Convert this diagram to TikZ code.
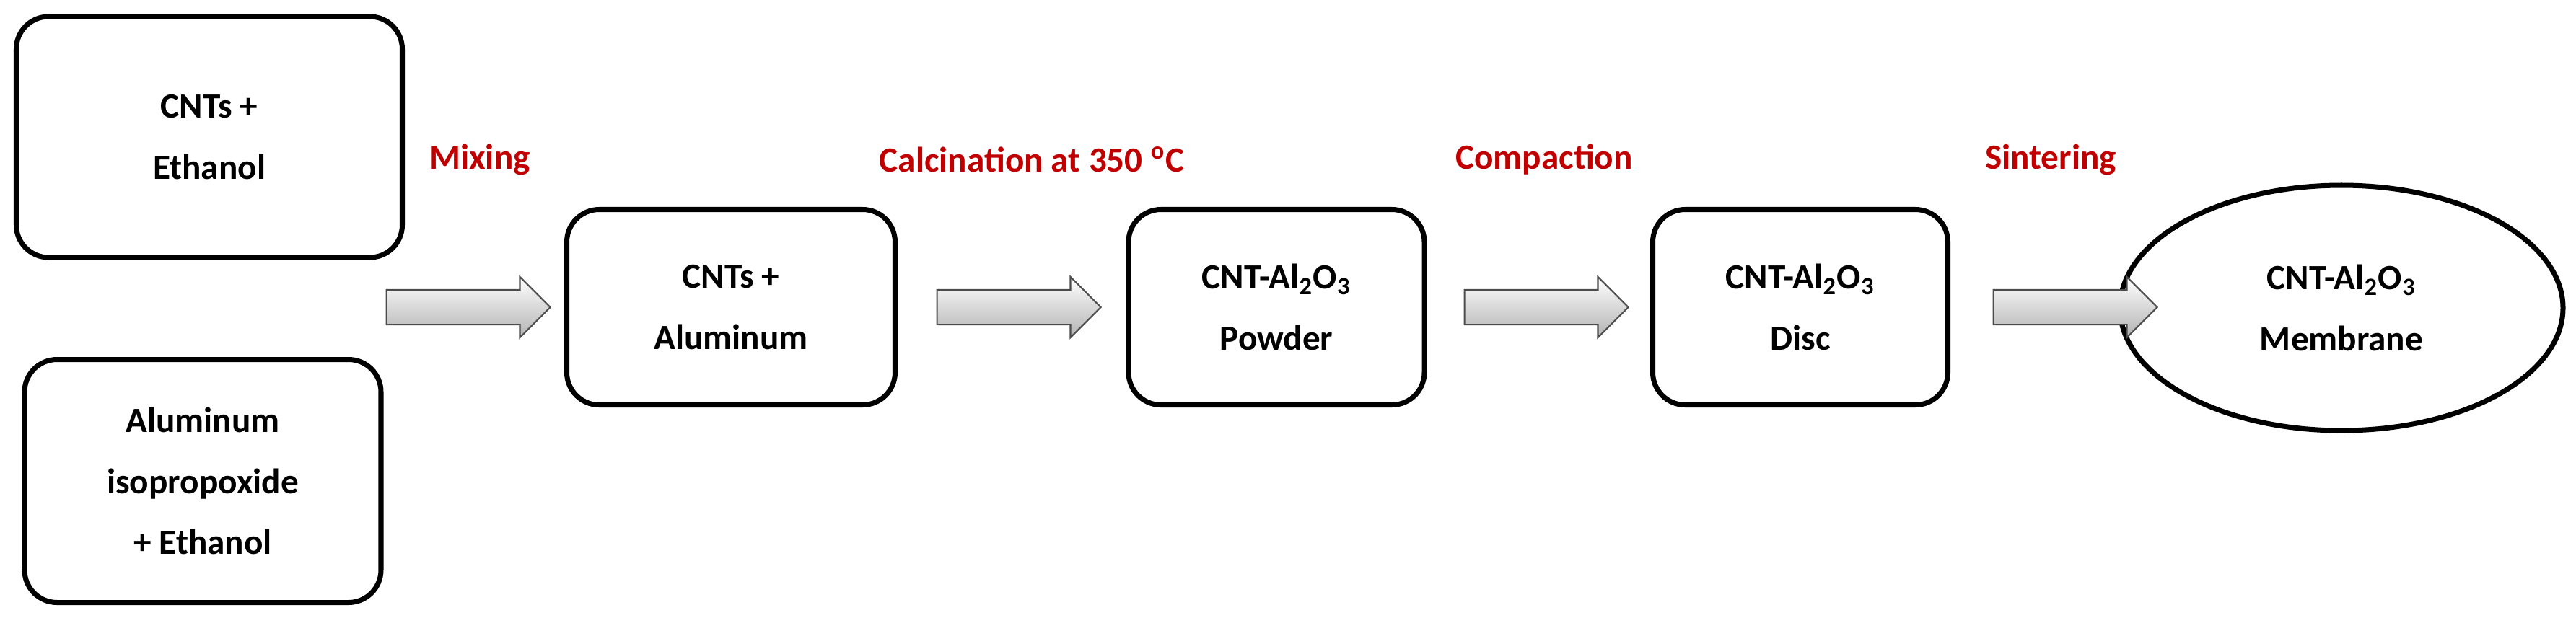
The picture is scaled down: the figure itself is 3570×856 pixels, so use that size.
\documentclass[tikz,border=0pt]{standalone}
\usepackage{fontspec}
\setmainfont{Carlito}
\usetikzlibrary{shapes.arrows,shapes.geometric}
\definecolor{lab}{RGB}{192,0,0}
\tikzset{
  box/.style={draw,line width=2pt,rounded corners=4.5mm,align=center,font=\fontsize{14}{24}\selectfont\bfseries,inner sep=0pt},
  lbl/.style={text=lab,font=\fontsize{14}{16}\selectfont\bfseries},
  arr/.style={single arrow,draw=black!70,line width=0.6pt,top color=white,bottom color=black!30,minimum height=22.7mm,minimum width=6.8mm,single arrow head extend=1.8mm,inner xsep=0pt,inner ysep=1.6mm,text height=0pt,text depth=0pt,shape border uses incircle}
}
\begin{document}
\begin{tikzpicture}[x=0.1mm,y=-0.1mm]
\useasboundingbox (0,0) rectangle (3570,856);
\node[box,minimum width=53.5mm,minimum height=33.4mm] (a) at (290,190) {CNTs +\\Ethanol};
\node[box,minimum width=49.4mm,minimum height=33.7mm] (b) at (281,667) {Aluminum\\isopropoxide\\+ Ethanol};
\node[box,minimum width=45.5mm,minimum height=27.1mm] (c) at (1013,426) {CNTs +\\Aluminum};
\node[box,minimum width=41mm,minimum height=27.1mm] (d) at (1769,426) {CNT-Al\textsubscript{2}O\textsubscript{3}\\Powder};
\node[box,minimum width=40.9mm,minimum height=27.1mm] (e) at (2495,426) {CNT-Al\textsubscript{2}O\textsubscript{3}\\Disc};
\node[draw,ellipse,line width=2pt,minimum width=61.4mm,minimum height=34mm,align=center,font=\fontsize{14}{24}\selectfont\bfseries,inner sep=0pt] (f) at (3245,427) {CNT-Al\textsubscript{2}O\textsubscript{3}\\Membrane};
\node[arr] (a1) at (637,426) {};
\node[arr] (a2) at (1400,426) {};
\node[arr] (a3) at (2131,426) {};
\node[arr] (a4) at (2864,426) {};
\node[lbl] (l1) at (665,221) {Mixing};
\node[lbl] (l2) at (1430,221) {Calcination at 350 \textsuperscript{o}C};
\node[lbl] (l3) at (2140,221) {Compaction};
\node[lbl] (l4) at (2842,221) {Sintering};
\end{tikzpicture}
\end{document}
